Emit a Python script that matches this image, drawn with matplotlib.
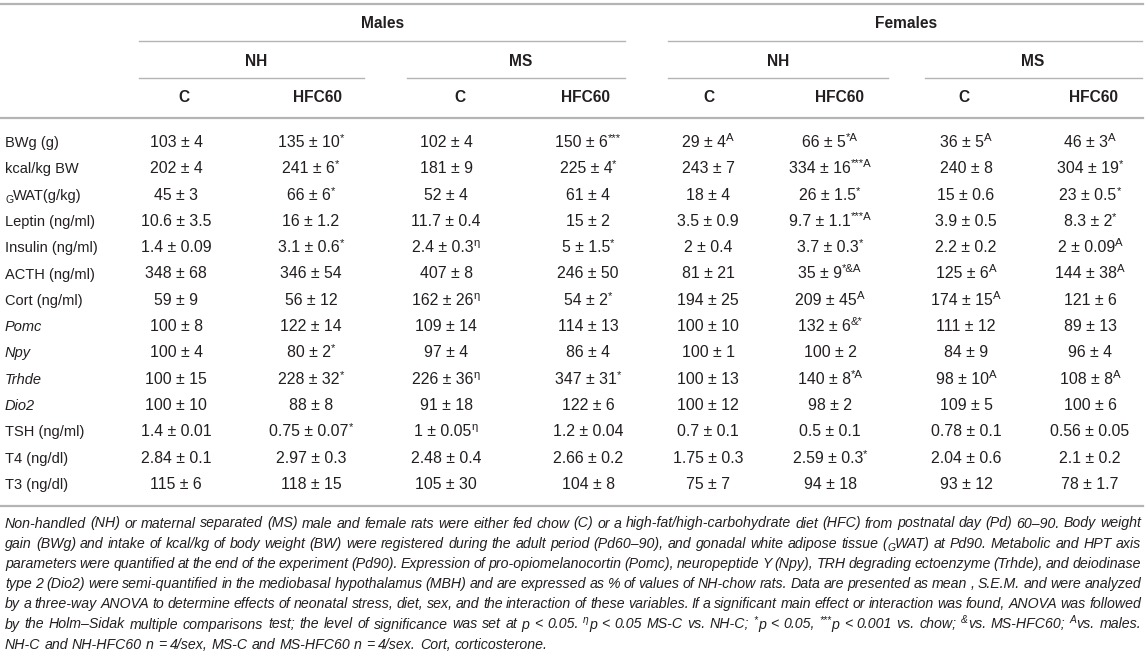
import re
import matplotlib
matplotlib.use("Agg")
import matplotlib.pyplot as plt

plt.rcParams['font.family'] = ['Liberation Sans', 'DejaVu Sans']

# ---- table data ("^{..}" superscript, "_{..}" subscript) ----
row_labels = ["BWg (g)", "kcal/kg BW", "_{G}WAT(g/kg)", "Leptin (ng/ml)", "Insulin (ng/ml)",
              "ACTH (ng/ml)", "Cort (ng/ml)", "Pomc", "Npy", "Trhde", "Dio2",
              "TSH (ng/ml)", "T4 (ng/dl)", "T3 (ng/dl)"]
italic_rows = ["Pomc", "Npy", "Trhde", "Dio2"]

sexes = ["Males", "Females"]
groups = ["NH", "MS", "NH", "MS"]
diets = ["C", "HFC60", "C", "HFC60", "C", "HFC60", "C", "HFC60"]

males_nh_c = ["103 ± 4", "202 ± 4", "45 ± 3", "10.6 ± 3.5", "1.4 ± 0.09", "348 ± 68", "59 ± 9",
              "100 ± 8", "100 ± 4", "100 ± 15", "100 ± 10", "1.4 ± 0.01", "2.84 ± 0.1", "115 ± 6"]
males_nh_hfc = ["135 ± 10^{*}", "241 ± 6^{*}", "66 ± 6^{*}", "16 ± 1.2", "3.1 ± 0.6^{*}", "346 ± 54",
                "56 ± 12", "122 ± 14", "80 ± 2^{*}", "228 ± 32^{*}", "88 ± 8", "0.75 ± 0.07^{*}",
                "2.97 ± 0.3", "118 ± 15"]
males_ms_c = ["102 ± 4", "181 ± 9", "52 ± 4", "11.7 ± 0.4", "2.4 ± 0.3^{η}", "407 ± 8", "162 ± 26^{η}",
              "109 ± 14", "97 ± 4", "226 ± 36^{η}", "91 ± 18", "1 ± 0.05^{η}", "2.48 ± 0.4", "105 ± 30"]
males_ms_hfc = ["150 ± 6^{***}", "225 ± 4^{*}", "61 ± 4", "15 ± 2", "5 ± 1.5^{*}", "246 ± 50",
                "54 ± 2^{*}", "114 ± 13", "86 ± 4", "347 ± 31^{*}", "122 ± 6", "1.2 ± 0.04",
                "2.66 ± 0.2", "104 ± 8"]
females_nh_c = ["29 ± 4^{A}", "243 ± 7", "18 ± 4", "3.5 ± 0.9", "2 ± 0.4", "81 ± 21", "194 ± 25",
                "100 ± 10", "100 ± 1", "100 ± 13", "100 ± 12", "0.7 ± 0.1", "1.75 ± 0.3", "75 ± 7"]
females_nh_hfc = ["66 ± 5^{*A}", "334 ± 16^{***A}", "26 ± 1.5^{*}", "9.7 ± 1.1^{***A}", "3.7 ± 0.3^{*}",
                  "35 ± 9^{*&A}", "209 ± 45^{A}", "132 ± 6^{&*}", "100 ± 2", "140 ± 8^{*A}", "98 ± 2",
                  "0.5 ± 0.1", "2.59 ± 0.3^{*}", "94 ± 18"]
females_ms_c = ["36 ± 5^{A}", "240 ± 8", "15 ± 0.6", "3.9 ± 0.5", "2.2 ± 0.2", "125 ± 6^{A}",
                "174 ± 15^{A}", "111 ± 12", "84 ± 9", "98 ± 10^{A}", "109 ± 5", "0.78 ± 0.1",
                "2.04 ± 0.6", "93 ± 12"]
females_ms_hfc = ["46 ± 3^{A}", "304 ± 19^{*}", "23 ± 0.5^{*}", "8.3 ± 2^{*}", "2 ± 0.09^{A}",
                  "144 ± 38^{A}", "121 ± 6", "89 ± 13", "96 ± 4", "108 ± 8^{A}", "100 ± 6",
                  "0.56 ± 0.05", "2.1 ± 0.2", "78 ± 1.7"]
columns = [males_nh_c, males_nh_hfc, males_ms_c, males_ms_hfc,
           females_nh_c, females_nh_hfc, females_ms_c, females_ms_hfc]

caption = [
    "Non-handled (NH) or maternal separated (MS) male and female rats were either fed chow (C) or a high-fat/high-carbohydrate diet (HFC) from postnatal day (Pd) 60–90. Body weight",
    "gain (BWg) and intake of kcal/kg of body weight (BW) were registered during the adult period (Pd60–90), and gonadal white adipose tissue (_{G}WAT) at Pd90. Metabolic and HPT axis",
    "parameters were quantified at the end of the experiment (Pd90). Expression of pro-opiomelanocortin (Pomc), neuropeptide Y (Npy), TRH degrading ectoenzyme (Trhde), and deiodinase",
    "type 2 (Dio2) were semi-quantified in the mediobasal hypothalamus (MBH) and are expressed as % of values of NH-chow rats. Data are presented as mean , S.E.M. and were analyzed",
    "by a three-way ANOVA to determine effects of neonatal stress, diet, sex, and the interaction of these variables. If a significant main effect or interaction was found, ANOVA was followed",
    "by the Holm–Sidak multiple comparisons test; the level of significance was set at p < 0.05. ^{η}p < 0.05 MS-C vs. NH-C; ^{*}p < 0.05, ^{***}p < 0.001 vs. chow; ^{&}vs. MS-HFC60; ^{A}vs. males.",
    "NH-C and NH-HFC60 n = 4/sex, MS-C and MS-HFC60 n = 4/sex. Cort, corticosterone.",
]

W, H = 1145, 654
fig = plt.figure(figsize=(W / 100, H / 100), dpi=100)
ax = fig.add_axes([0, 0, 1, 1])
ax.set_xlim(0, W)
ax.set_ylim(H, 0)
ax.axis("off")
rend = fig.canvas.get_renderer()

txt = "#231f20"
grey = "#b4b4b4"
fs_head = 11.2
fs = 10.5
fs_val = 11.4
cap_fs = 10.2


def split_parts(s):
    parts = []
    for p in re.split(r'(\^\{[^}]*\}|_\{[^}]*\})', s):
        if not p:
            continue
        if p.startswith("^{"):
            parts.append((p[2:-1], "sup"))
        elif p.startswith("_{"):
            parts.append((p[2:-1], "sub"))
        else:
            parts.append((p, "n"))
    return parts


def rich(x, y, s, size, ha="left", **kw):
    # draw text with small raised/lowered pieces, return total width
    objs, widths = [], []
    px = size * 100 / 72
    for p, kind in split_parts(s):
        if kind == "n":
            o = ax.text(0, y, p, fontsize=size, va="baseline", color=txt, **kw)
        elif kind == "sup":
            o = ax.text(0, y - 0.38 * px, p, fontsize=size * 0.72, va="baseline", color=txt, **kw)
        else:
            o = ax.text(0, y + 0.22 * px, p, fontsize=size * 0.72, va="baseline", color=txt, **kw)
        objs.append(o)
        widths.append(o.get_window_extent(rend).width)
    total = sum(widths)
    x0 = x - total / 2 if ha == "center" else x
    for o, w in zip(objs, widths):
        o.set_x(x0)
        x0 += w
    return objs, total


# layout
sex_x = [383, 906]
sex_spans = [(139, 625), (668, 1142)]
group_x = [256, 521, 778, 1033]
group_spans = [(139, 364), (407, 625), (668, 888), (925, 1142)]
diet_x = [184, 318, 460, 585, 709, 840, 964, 1093]
val_x = [176, 311, 446, 588, 708, 830, 966, 1090]
row_y0, row_dy = 142, 26.3
base_off = 5  # centre line -> baseline

ax.plot([0, 1143], [4, 4], color=grey, lw=1.6)
for x, s in zip(sex_x, sexes):
    ax.text(x, 24, s, ha="center", va="center", fontsize=fs_head, fontweight="bold", color=txt)
for a, b in sex_spans:
    ax.plot([a, b], [41, 41], color=grey, lw=1.0)
for x, g in zip(group_x, groups):
    ax.text(x, 61, g, ha="center", va="center", fontsize=fs_head, fontweight="bold", color=txt)
for a, b in group_spans:
    ax.plot([a, b], [78, 78], color=grey, lw=1.0)
for x, d in zip(diet_x, diets):
    ax.text(x, 97, d, ha="center", va="center", fontsize=fs_head, fontweight="bold", color=txt)
ax.plot([0, 1143], [118, 118], color=grey, lw=1.6)

for i, lab in enumerate(row_labels):
    y = row_y0 + i * row_dy + base_off
    style = "italic" if lab in italic_rows else "normal"
    rich(5, y, lab, fs, style=style)
    for x, col in zip(val_x, columns):
        rich(x, y, col[i], fs_val, ha="center")

ax.plot([0, 1143], [506, 506], color=grey, lw=1.6)

# caption, justified like the journal layout
left, right = 5, 1141
space_w = 0.278 * cap_fs * 100 / 72
for j, line in enumerate(caption):
    y = 523 + j * 20.2 + 4.5
    words = line.split()
    placed = []
    for w in words:
        objs, wd = rich(0, y, w, cap_fs, style="italic")
        placed.append((objs, wd))
    total = sum(wd for _, wd in placed)
    if j < len(caption) - 1:
        gap = (right - left - total) / (len(words) - 1)
    else:
        gap = space_w
    x = left
    for objs, wd in placed:
        for o in objs:
            o.set_x(o.get_position()[0] + x)
        x += wd + gap

fig.savefig("out.png", dpi=100)
